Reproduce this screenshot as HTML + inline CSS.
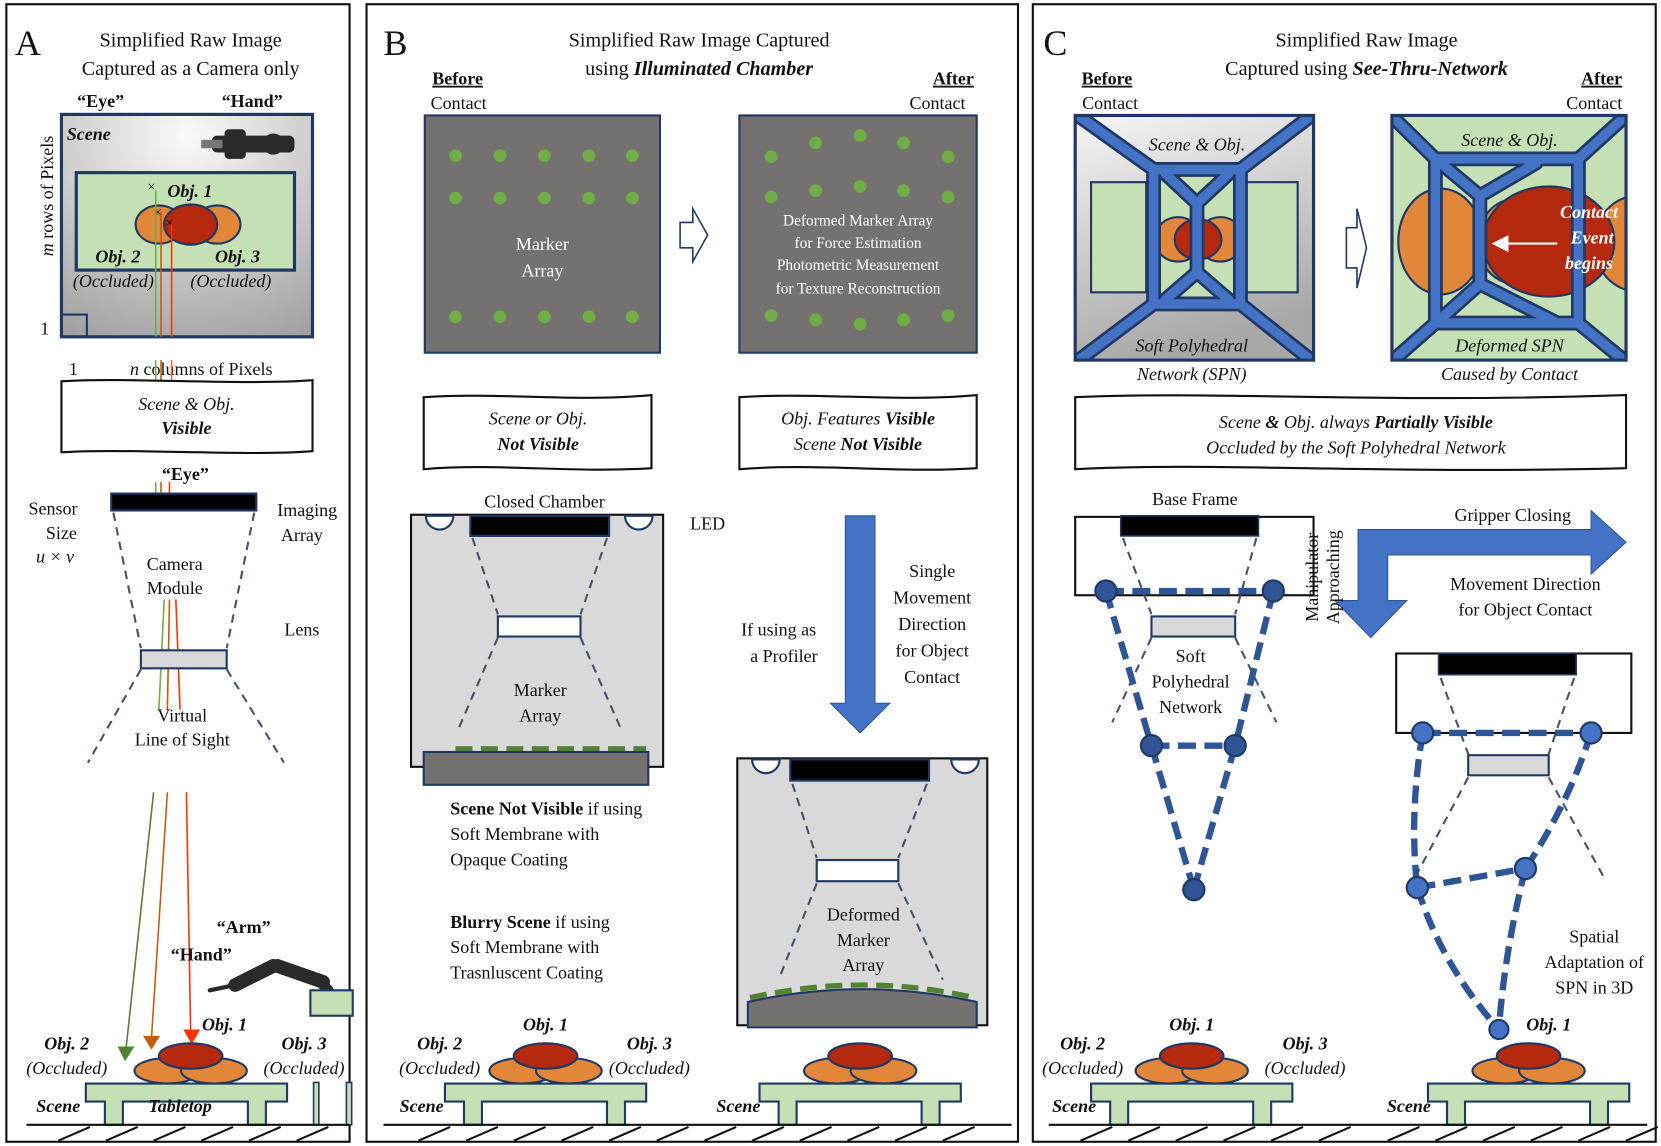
<!DOCTYPE html>
<html><head><meta charset="utf-8"><style>
html,body{margin:0;padding:0;background:#fff;}
svg{display:block;}
text{font-family:"Liberation Serif",serif;fill:#111;}
.t{font-size:19px;text-anchor:middle;}
.s{font-size:17px;}
.c{text-anchor:middle;}
.i{font-style:italic;}
.b{font-weight:bold;}
.w{fill:#fff;}
</style></head><body>
<svg width="1661" height="1146" viewBox="0 0 1568 1082" preserveAspectRatio="none" xmlns="http://www.w3.org/2000/svg">
<defs>
<linearGradient id="gg" x1="0" y1="0" x2="0.3" y2="1"><stop offset="0" stop-color="#f6f6f6"/><stop offset="1" stop-color="#a8a8a8"/></linearGradient>
<radialGradient id="gr" cx="0.5" cy="0.1" r="1"><stop offset="0" stop-color="#fafafa"/><stop offset="1" stop-color="#a0a0a0"/></radialGradient>
<g id="tbl">
<path d="M-95 1023 H95 V1040 H75 V1062 H58 V1040 H-60 V1062 H-77 V1040 H-95 Z" fill="#c5e0b4" stroke="#1f3864" stroke-width="2"/>
</g>
<g id="objs" stroke="#1f3864" stroke-width="2">
<ellipse cx="-22" cy="1011" rx="31" ry="12" fill="#e2873a"/>
<ellipse cx="22" cy="1011" rx="31" ry="12" fill="#e2873a"/>
<ellipse cx="0" cy="997" rx="30" ry="12" fill="#b5290f"/>
</g>
<g id="hat" stroke="#111" stroke-width="2">
<line x1="0" y1="1077" x2="30" y2="1064"/><line x1="45" y1="1077" x2="75" y2="1064"/><line x1="90" y1="1077" x2="120" y2="1064"/><line x1="135" y1="1077" x2="165" y2="1064"/><line x1="180" y1="1077" x2="210" y2="1064"/><line x1="225" y1="1077" x2="255" y2="1064"/>
</g>
<path id="spn1" d="M1005 100 L1089 160 L1171 160 L1250 100 M1005 350 L1089 287 L1171 287 L1250 350 M1089 160 L1089 287 M1171 160 L1171 287 M1100 164 L1130 192 L1160 164 M1130 192 L1130 257 M1100 283 L1130 257 L1160 283"/>
<path id="spn2" d="M1304 100 L1355 150 L1490 150 L1545 100 M1304 350 L1355 305 L1490 305 L1545 350 M1355 150 L1355 305 M1490 150 L1490 305 M1360 154 L1397 185 L1450 154 M1397 185 L1397 268 M1360 301 L1397 268 L1470 305"/>
<clipPath id="cb1"><rect x="1015" y="109" width="225" height="231"/></clipPath>
<clipPath id="cb2"><rect x="1314" y="109" width="221" height="231"/></clipPath>
</defs>

<rect x="6" y="4" width="324" height="1074" fill="none" stroke="#111" stroke-width="2"/>
<rect x="346" y="4" width="615" height="1074" fill="none" stroke="#111" stroke-width="2"/>
<rect x="975" y="4" width="588" height="1074" fill="none" stroke="#111" stroke-width="2"/>

<!-- ============ PANEL A ============ -->
<text x="14" y="52" style="font-size:34px">A</text>
<text x="180" y="44" class="t">Simplified Raw Image</text>
<text x="180" y="71" class="t">Captured as a Camera only</text>
<text x="95" y="101" class="s c b">“Eye”</text>
<text x="238" y="101" class="s c b">“Hand”</text>
<rect x="58" y="108" width="237" height="210" fill="url(#gr)" stroke="#1f3864" stroke-width="3"/>
<text x="63" y="132" class="s i b">Scene</text>
<g fill="#2a2a2a"><rect x="200" y="128" width="78" height="16" rx="5"/><rect x="212" y="122" width="20" height="28" rx="4"/><circle cx="258" cy="136" r="10"/><rect x="190" y="132" width="20" height="8" fill="#777"/></g>
<rect x="72" y="163" width="206" height="92" fill="#c5e0b4" stroke="#1f3864" stroke-width="3"/>
<ellipse cx="150" cy="212" rx="22" ry="18" fill="#e2873a" stroke="#1f3864" stroke-width="2"/>
<ellipse cx="205" cy="212" rx="22" ry="18" fill="#e2873a" stroke="#1f3864" stroke-width="2"/>
<ellipse cx="180" cy="212" rx="25" ry="19" fill="#b5290f" stroke="#1f3864" stroke-width="2"/>
<text x="158" y="186" class="s i b">Obj. 1</text>
<text x="90" y="248" class="s i b">Obj. 2</text>
<text x="203" y="248" class="s i b">Obj. 3</text>
<text x="107" y="271" class="s c i">(Occluded)</text>
<text x="218" y="271" class="s c i">(Occluded)</text>
<text x="139" y="181" style="font-size:14px">×</text><text x="145" y="205" style="font-size:14px">×</text><text x="156" y="215" style="font-size:14px">×</text>
<line x1="147" y1="180" x2="147" y2="318" stroke="#70ad47" stroke-width="1.5"/>
<line x1="152" y1="200" x2="152" y2="318" stroke="#c55a11" stroke-width="1.5"/>
<line x1="162" y1="212" x2="162" y2="318" stroke="#ff3300" stroke-width="1.5"/>
<rect x="58" y="297" width="24" height="21" fill="none" stroke="#1f3864" stroke-width="2"/>
<text x="38" y="316" class="s">1</text>
<text x="65" y="354" class="s">1</text>
<text x="190" y="354" class="s c"><tspan class="i">n</tspan> columns of Pixels</text>
<text transform="translate(50,185) rotate(-90)" class="s c"><tspan class="i">m</tspan> rows of Pixels</text>
<g stroke-width="1.5"><line x1="147" y1="340" x2="147" y2="360" stroke="#70ad47"/><line x1="152" y1="340" x2="152" y2="360" stroke="#c55a11"/><line x1="162" y1="340" x2="162" y2="360" stroke="#ff6644"/></g>
<path d="M58 360 C120 356 230 364 295 359 L295 426 C230 431 120 423 58 427 Z" fill="#fff" stroke="#111" stroke-width="2"/>
<text x="176" y="387" class="s c i">Scene &amp; Obj.</text>
<text x="176" y="410" class="s c i b">Visible</text>
<text x="175" y="453" class="s c b">“Eye”</text>
<text x="50" y="486" class="s c">Sensor</text>
<text x="58" y="509" class="s c">Size</text>
<text x="52" y="531" class="s c i">u × v</text>
<text x="290" y="487" class="s c">Imaging</text>
<text x="285" y="511" class="s c">Array</text>
<g stroke-width="1.5"><line x1="147" y1="455" x2="147" y2="466" stroke="#70ad47"/><line x1="152" y1="455" x2="152" y2="466" stroke="#c55a11"/><line x1="160" y1="455" x2="160" y2="466" stroke="#ff3300"/></g>
<rect x="105" y="466" width="137" height="16" fill="#000" stroke="#1f3864" stroke-width="2"/>
<g stroke="#44546a" stroke-width="2" stroke-dasharray="8 6" fill="none">
<line x1="107" y1="484" x2="133" y2="612"/><line x1="240" y1="484" x2="214" y2="612"/>
<line x1="133" y1="632" x2="83" y2="720"/><line x1="214" y1="632" x2="268" y2="720"/>
</g>
<text x="165" y="538" class="s c">Camera</text>
<text x="165" y="561" class="s c">Module</text>
<g stroke-width="1.5" fill="none"><path d="M155 566 L150 670" stroke="#70ad47"/><path d="M160 566 L158 670" stroke="#c55a11"/><path d="M166 566 L170 670" stroke="#ff3300"/></g>
<rect x="133" y="614" width="81" height="17" fill="#d9d9d9" stroke="#1f3864" stroke-width="2"/>
<text x="285" y="600" class="s c">Lens</text>
<text x="172" y="681" class="s c">Virtual</text>
<text x="172" y="704" class="s c">Line of Sight</text>
<line x1="145" y1="748" x2="119" y2="990" stroke="#548235" stroke-width="1.5"/><polygon points="111,988 127,988 118,1002" fill="#548235"/>
<line x1="158" y1="748" x2="143" y2="980" stroke="#c55a11" stroke-width="1.5"/><polygon points="135,978 151,978 143,991" fill="#c55a11"/>
<line x1="176" y1="748" x2="180" y2="975" stroke="#ff3300" stroke-width="1.5"/><polygon points="173,972 189,972 181,986" fill="#ff3300"/>
<text x="230" y="881" class="s c b">“Arm”</text>
<text x="190" y="907" class="s c b">“Hand”</text>
<g stroke="#2a2a2a" stroke-linecap="round" fill="none"><line x1="222" y1="930" x2="258" y2="912" stroke-width="13"/><line x1="262" y1="912" x2="305" y2="927" stroke-width="13"/><line x1="305" y1="930" x2="310" y2="935" stroke-width="10"/><line x1="198" y1="935" x2="222" y2="930" stroke-width="4"/></g>
<rect x="293" y="935" width="40" height="24" fill="#c5e0b4" stroke="#1f3864" stroke-width="2"/>
<use href="#tbl" transform="translate(176,0)"/>
<use href="#objs" transform="translate(180,0)"/>
<rect x="296" y="1022" width="5" height="40" fill="#c5e0b4" stroke="#1f3864" stroke-width="1.5"/>
<rect x="327" y="1022" width="5" height="40" fill="#c5e0b4" stroke="#1f3864" stroke-width="1.5"/>
<text x="63" y="991" class="s c i b">Obj. 2</text>
<text x="63" y="1014" class="s c i">(Occluded)</text>
<text x="212" y="973" class="s c i b">Obj. 1</text>
<text x="287" y="991" class="s c i b">Obj. 3</text>
<text x="287" y="1014" class="s c i">(Occluded)</text>
<text x="55" y="1050" class="s c i b">Scene</text>
<text x="170" y="1050" class="s c i b">Tabletop</text>
<line x1="25" y1="1062" x2="330" y2="1062" stroke="#111" stroke-width="2"/>
<use href="#hat" transform="translate(55,0)"/>

<!-- ============ PANEL B ============ -->
<text x="362" y="52" style="font-size:34px">B</text>
<text x="660" y="44" class="t">Simplified Raw Image Captured</text>
<text x="660" y="71" class="t">using <tspan class="i b">Illuminated Chamber</tspan></text>
<text x="432" y="80" class="s c b" text-decoration="underline">Before</text>
<text x="433" y="103" class="s c">Contact</text>
<text x="900" y="80" class="s c b" text-decoration="underline">After</text>
<text x="885" y="103" class="s c">Contact</text>
<rect x="401" y="109" width="222" height="224" fill="#767171" stroke="#1f3864" stroke-width="2"/>
<g fill="#70ad47">
<circle cx="430" cy="147" r="6"/><circle cx="472" cy="147" r="6"/><circle cx="514" cy="147" r="6"/><circle cx="556" cy="147" r="6"/><circle cx="597" cy="147" r="6"/>
<circle cx="430" cy="187" r="6"/><circle cx="472" cy="187" r="6"/><circle cx="514" cy="187" r="6"/><circle cx="556" cy="187" r="6"/><circle cx="597" cy="187" r="6"/>
<circle cx="430" cy="299" r="6"/><circle cx="472" cy="299" r="6"/><circle cx="514" cy="299" r="6"/><circle cx="556" cy="299" r="6"/><circle cx="597" cy="299" r="6"/>
</g>
<text x="512" y="236" class="s c w">Marker</text>
<text x="512" y="261" class="s c w">Array</text>
<path d="M642 210 H654 V197 L668 222 L654 247 V234 H642 Z" fill="#fff" stroke="#1f3864" stroke-width="1.5"/>
<rect x="698" y="109" width="224" height="224" fill="#767171" stroke="#1f3864" stroke-width="2"/>
<g fill="#70ad47">
<circle cx="728" cy="148" r="6"/><circle cx="770" cy="135" r="6"/><circle cx="812" cy="128" r="6"/><circle cx="853" cy="135" r="6"/><circle cx="895" cy="148" r="6"/>
<circle cx="728" cy="186" r="6"/><circle cx="770" cy="180" r="6"/><circle cx="812" cy="176" r="6"/><circle cx="853" cy="180" r="6"/><circle cx="895" cy="186" r="6"/>
<circle cx="728" cy="298" r="6"/><circle cx="770" cy="302" r="6"/><circle cx="812" cy="306" r="6"/><circle cx="853" cy="302" r="6"/><circle cx="895" cy="298" r="6"/>
</g>
<text x="810" y="213" class="c w" style="font-size:14.5px">Deformed Marker Array</text>
<text x="810" y="234" class="c w" style="font-size:14.5px">for Force Estimation</text>
<text x="810" y="255" class="c w" style="font-size:14.5px">Photometric Measurement</text>
<text x="810" y="277" class="c w" style="font-size:14.5px">for Texture Reconstruction</text>
<path d="M400 375 C470 370 540 380 615 373 L615 442 C540 447 470 437 400 443 Z" fill="#fff" stroke="#111" stroke-width="2"/>
<text x="508" y="401" class="s c i">Scene or Obj.</text>
<text x="508" y="425" class="s c i b">Not Visible</text>
<path d="M698 375 C770 370 850 380 922 373 L922 442 C850 447 770 437 698 443 Z" fill="#fff" stroke="#111" stroke-width="2"/>
<text x="810" y="401" class="s c i">Obj. Features <tspan class="b">Visible</tspan></text>
<text x="810" y="425" class="s c i">Scene <tspan class="b">Not Visible</tspan></text>
<text x="514" y="479" class="s c">Closed Chamber</text>
<text x="668" y="500" class="s c">LED</text>
<rect x="388" y="486" width="238" height="238" fill="#d9d9d9" stroke="#111" stroke-width="2"/>
<path d="M402 487 A13 13 0 0 0 428 487 Z" fill="#fff" stroke="#1f3864" stroke-width="2"/>
<path d="M590 487 A13 13 0 0 0 616 487 Z" fill="#fff" stroke="#1f3864" stroke-width="2"/>
<rect x="444" y="487" width="131" height="19" fill="#000" stroke="#1f3864" stroke-width="2"/>
<g stroke="#44546a" stroke-width="2" stroke-dasharray="8 6" fill="none">
<line x1="446" y1="508" x2="470" y2="580"/><line x1="573" y1="508" x2="548" y2="580"/>
<line x1="470" y1="602" x2="432" y2="690"/><line x1="548" y1="602" x2="587" y2="690"/>
</g>
<rect x="470" y="582" width="78" height="19" fill="#fff" stroke="#1f3864" stroke-width="2"/>
<text x="510" y="657" class="s c">Marker</text>
<text x="510" y="681" class="s c">Array</text>
<line x1="430" y1="707" x2="610" y2="707" stroke="#548235" stroke-width="5" stroke-dasharray="16 8"/>
<rect x="400" y="710" width="212" height="31" fill="#767171" stroke="#1f3864" stroke-width="2"/>
<text x="425" y="769" class="s"><tspan class="b">Scene Not Visible</tspan> if using</text>
<text x="425" y="793" class="s">Soft Membrane with</text>
<text x="425" y="817" class="s">Opaque Coating</text>
<text x="425" y="876" class="s"><tspan class="b">Blurry Scene</tspan> if using</text>
<text x="425" y="900" class="s">Soft Membrane with</text>
<text x="425" y="924" class="s">Trasnluscent Coating</text>
<text x="735" y="600" class="s c">If using as</text>
<text x="740" y="625" class="s c">a Profiler</text>
<polygon points="798,487 826,487 826,664 840,664 812,692 784,664 798,664" fill="#4472c4" stroke="#2f5597" stroke-width="1"/>
<text x="880" y="545" class="s c">Single</text>
<text x="880" y="570" class="s c">Movement</text>
<text x="880" y="595" class="s c">Direction</text>
<text x="880" y="620" class="s c">for Object</text>
<text x="880" y="645" class="s c">Contact</text>
<rect x="696" y="716" width="236" height="252" fill="#d9d9d9" stroke="#111" stroke-width="2"/>
<path d="M710 717 A13 13 0 0 0 736 717 Z" fill="#fff" stroke="#1f3864" stroke-width="2"/>
<path d="M898 717 A13 13 0 0 0 924 717 Z" fill="#fff" stroke="#1f3864" stroke-width="2"/>
<rect x="746" y="717" width="131" height="20" fill="#000" stroke="#1f3864" stroke-width="2"/>
<g stroke="#44546a" stroke-width="2" stroke-dasharray="8 6" fill="none">
<line x1="748" y1="740" x2="771" y2="810"/><line x1="875" y1="740" x2="848" y2="810"/>
<line x1="771" y1="834" x2="735" y2="925"/><line x1="848" y1="834" x2="890" y2="925"/>
</g>
<rect x="771" y="812" width="77" height="20" fill="#fff" stroke="#1f3864" stroke-width="2"/>
<text x="815" y="869" class="s c">Deformed</text>
<text x="815" y="893" class="s c">Marker</text>
<text x="815" y="917" class="s c">Array</text>
<path d="M708 942 Q815 918 920 942" fill="none" stroke="#548235" stroke-width="5" stroke-dasharray="16 8"/>
<path d="M706 946 Q815 922 922 946 L922 970 L706 970 Z" fill="#767171" stroke="#1f3864" stroke-width="2"/>
<use href="#tbl" transform="translate(515,0)"/>
<use href="#objs" transform="translate(515,0)"/>
<text x="415" y="991" class="s c i b">Obj. 2</text>
<text x="415" y="1014" class="s c i">(Occluded)</text>
<text x="515" y="973" class="s c i b">Obj. 1</text>
<text x="613" y="991" class="s c i b">Obj. 3</text>
<text x="613" y="1014" class="s c i">(Occluded)</text>
<text x="398" y="1050" class="s c i b">Scene</text>
<use href="#tbl" transform="translate(812,0)"/>
<use href="#objs" transform="translate(812,0)"/>
<text x="697" y="1050" class="s c i b">Scene</text>
<line x1="362" y1="1062" x2="955" y2="1062" stroke="#111" stroke-width="2"/>
<use href="#hat" transform="translate(395,0)"/>
<use href="#hat" transform="translate(665,0)"/>

<!-- ============ PANEL C ============ -->
<text x="985" y="52" style="font-size:34px">C</text>
<text x="1290" y="44" class="t">Simplified Raw Image</text>
<text x="1290" y="71" class="t">Captured using <tspan class="i b">See-Thru-Network</tspan></text>
<text x="1045" y="80" class="s c b" text-decoration="underline">Before</text>
<text x="1048" y="103" class="s c">Contact</text>
<text x="1512" y="80" class="s c b" text-decoration="underline">After</text>
<text x="1505" y="103" class="s c">Contact</text>
<rect x="1015" y="109" width="225" height="231" fill="url(#gg)"/>
<g clip-path="url(#cb1)">
<rect x="1030" y="172" width="52" height="104" fill="#c5e0b4" stroke="#1f3864" stroke-width="2"/>
<rect x="1174" y="172" width="51" height="104" fill="#c5e0b4" stroke="#1f3864" stroke-width="2"/>
<rect x="1092" y="163" width="76" height="120" fill="#c5e0b4"/>
<ellipse cx="1112" cy="226" rx="22" ry="21" fill="#e2873a" stroke="#1f3864" stroke-width="2"/>
<ellipse cx="1152" cy="226" rx="22" ry="21" fill="#e2873a" stroke="#1f3864" stroke-width="2"/>
<ellipse cx="1131" cy="226" rx="22" ry="19" fill="#b5290f" stroke="#1f3864" stroke-width="2"/>
<use href="#spn1" fill="none" stroke="#1f3864" stroke-width="14" stroke-linecap="round" stroke-linejoin="round"/>
<use href="#spn1" fill="none" stroke="#4472c4" stroke-width="9" stroke-linecap="round" stroke-linejoin="round"/>
</g>
<rect x="1015" y="109" width="225" height="231" fill="none" stroke="#1f3864" stroke-width="3"/>
<text x="1130" y="142" class="s c i">Scene &amp; Obj.</text>
<text x="1125" y="332" class="s c i">Soft Polyhedral</text>
<text x="1125" y="359" class="s c i">Network (SPN)</text>
<path d="M1271 215 H1281 V197 L1290 234 L1281 272 V253 H1271 Z" fill="#fff" stroke="#1f3864" stroke-width="1.5"/>
<rect x="1314" y="109" width="221" height="231" fill="#c5e0b4"/>
<g clip-path="url(#cb2)">
<ellipse cx="1360" cy="228" rx="40" ry="50" fill="#e2873a" stroke="#1f3864" stroke-width="2"/>
<ellipse cx="1545" cy="230" rx="40" ry="45" fill="#e2873a" stroke="#1f3864" stroke-width="2"/>
<ellipse cx="1430" cy="228" rx="35" ry="40" fill="#e2873a" stroke="#1f3864" stroke-width="2"/>
<ellipse cx="1462" cy="228" rx="62" ry="52" fill="#b5290f" stroke="#1f3864" stroke-width="2"/>
<use href="#spn2" fill="none" stroke="#1f3864" stroke-width="14" stroke-linecap="round" stroke-linejoin="round"/>
<use href="#spn2" fill="none" stroke="#4472c4" stroke-width="9" stroke-linecap="round" stroke-linejoin="round"/>
</g>
<rect x="1314" y="109" width="221" height="231" fill="none" stroke="#1f3864" stroke-width="3"/>
<line x1="1470" y1="230" x2="1420" y2="230" stroke="#fff" stroke-width="2"/>
<polygon points="1408,230 1424,222 1424,238" fill="#fff"/>
<text x="1500" y="206" class="s c i b w">Contact</text>
<text x="1503" y="230" class="s c i b w">Event</text>
<text x="1500" y="254" class="s c i b w">begins</text>
<text x="1425" y="138" class="s c i">Scene &amp; Obj.</text>
<text x="1425" y="332" class="s c i">Deformed SPN</text>
<text x="1425" y="359" class="s c i">Caused by Contact</text>
<path d="M1015 375 C1150 369 1300 381 1535 373 L1535 442 C1300 448 1150 436 1015 443 Z" fill="#fff" stroke="#111" stroke-width="2"/>
<text x="1280" y="404" class="s c i">Scene <tspan class="b">&amp;</tspan> Obj. always <tspan class="b">Partially Visible</tspan></text>
<text x="1280" y="428" class="s c i">Occluded by the Soft Polyhedral Network</text>
<text x="1128" y="477" class="s c">Base Frame</text>
<rect x="1015" y="488" width="225" height="74" fill="#fff" stroke="#111" stroke-width="2"/>
<rect x="1058" y="487" width="130" height="19" fill="#000" stroke="#1f3864" stroke-width="1.5"/>
<g stroke="#44546a" stroke-width="2" stroke-dasharray="8 6" fill="none">
<line x1="1060" y1="508" x2="1087" y2="580"/><line x1="1186" y1="508" x2="1166" y2="580"/>
<line x1="1087" y1="602" x2="1050" y2="682"/><line x1="1166" y1="602" x2="1205" y2="682"/>
</g>
<rect x="1087" y="582" width="79" height="19" fill="#d9d9d9" stroke="#1f3864" stroke-width="2"/>
<text x="1124" y="625" class="s c">Soft</text>
<text x="1124" y="649" class="s c">Polyhedral</text>
<text x="1124" y="673" class="s c">Network</text>
<g stroke="#2f5597" stroke-width="6" stroke-dasharray="17 8" fill="none">
<line x1="1044" y1="558" x2="1202" y2="558"/><line x1="1044" y1="558" x2="1087" y2="704"/><line x1="1202" y1="558" x2="1166" y2="704"/>
<line x1="1087" y1="704" x2="1166" y2="704"/><line x1="1087" y1="704" x2="1127" y2="840"/><line x1="1166" y1="704" x2="1127" y2="840"/>
</g>
<g fill="#2f5597" stroke="#1f3864" stroke-width="2">
<circle cx="1044" cy="558" r="10"/><circle cx="1202" cy="558" r="10"/><circle cx="1087" cy="704" r="10"/><circle cx="1166" cy="704" r="10"/><circle cx="1127" cy="840" r="10"/>
</g>
<text x="1428" y="492" class="s c">Gripper Closing</text>
<polygon points="1282,500 1502,500 1502,482 1535,512 1502,542 1502,524 1310,524 1310,567 1328,567 1294,602 1260,567 1282,567" fill="#4472c4" stroke="#2f5597" stroke-width="1"/>
<text x="1440" y="557" class="s c">Movement Direction</text>
<text x="1440" y="581" class="s c">for Object Contact</text>
<text transform="translate(1244,545) rotate(-90)" class="s c">Manipulator</text>
<text transform="translate(1264,545) rotate(-90)" class="s c">Approaching</text>
<rect x="1318" y="617" width="222" height="75" fill="#fff" stroke="#111" stroke-width="2"/>
<rect x="1358" y="617" width="130" height="20" fill="#000" stroke="#1f3864" stroke-width="1.5"/>
<g stroke="#44546a" stroke-width="2" stroke-dasharray="8 6" fill="none">
<line x1="1360" y1="640" x2="1386" y2="712"/><line x1="1486" y1="640" x2="1462" y2="712"/>
<line x1="1386" y1="734" x2="1335" y2="830"/><line x1="1462" y1="734" x2="1515" y2="830"/>
</g>
<rect x="1386" y="713" width="76" height="19" fill="#d9d9d9" stroke="#1f3864" stroke-width="2"/>
<g stroke="#2f5597" stroke-width="6" stroke-dasharray="17 8" fill="none">
<line x1="1343" y1="692" x2="1502" y2="692"/>
<path d="M1343 692 Q1330 770 1338 838"/>
<path d="M1502 692 Q1480 760 1440 820"/>
<line x1="1338" y1="838" x2="1440" y2="820"/>
<path d="M1338 838 Q1360 910 1415 972"/>
<path d="M1440 820 Q1420 900 1415 972"/>
</g>
<g fill="#4472c4" stroke="#1f3864" stroke-width="2">
<circle cx="1343" cy="692" r="10"/><circle cx="1502" cy="692" r="10"/><circle cx="1338" cy="838" r="10"/><circle cx="1440" cy="820" r="10"/><circle cx="1415" cy="972" r="9"/>
</g>
<text x="1505" y="890" class="s c">Spatial</text>
<text x="1505" y="914" class="s c">Adaptation of</text>
<text x="1505" y="938" class="s c">SPN in 3D</text>
<use href="#tbl" transform="translate(1125,0)"/>
<use href="#objs" transform="translate(1125,0)"/>
<text x="1022" y="991" class="s c i b">Obj. 2</text>
<text x="1022" y="1014" class="s c i">(Occluded)</text>
<text x="1125" y="973" class="s c i b">Obj. 1</text>
<text x="1232" y="991" class="s c i b">Obj. 3</text>
<text x="1232" y="1014" class="s c i">(Occluded)</text>
<text x="1014" y="1050" class="s c i b">Scene</text>
<use href="#tbl" transform="translate(1443,0)"/>
<use href="#objs" transform="translate(1443,0)"/>
<text x="1462" y="973" class="s c i b">Obj. 1</text>
<text x="1330" y="1050" class="s c i b">Scene</text>
<line x1="990" y1="1062" x2="1555" y2="1062" stroke="#111" stroke-width="2"/>
<use href="#hat" transform="translate(1020,0)"/>
<use href="#hat" transform="translate(1310,0)"/>
</svg>
</body></html>
